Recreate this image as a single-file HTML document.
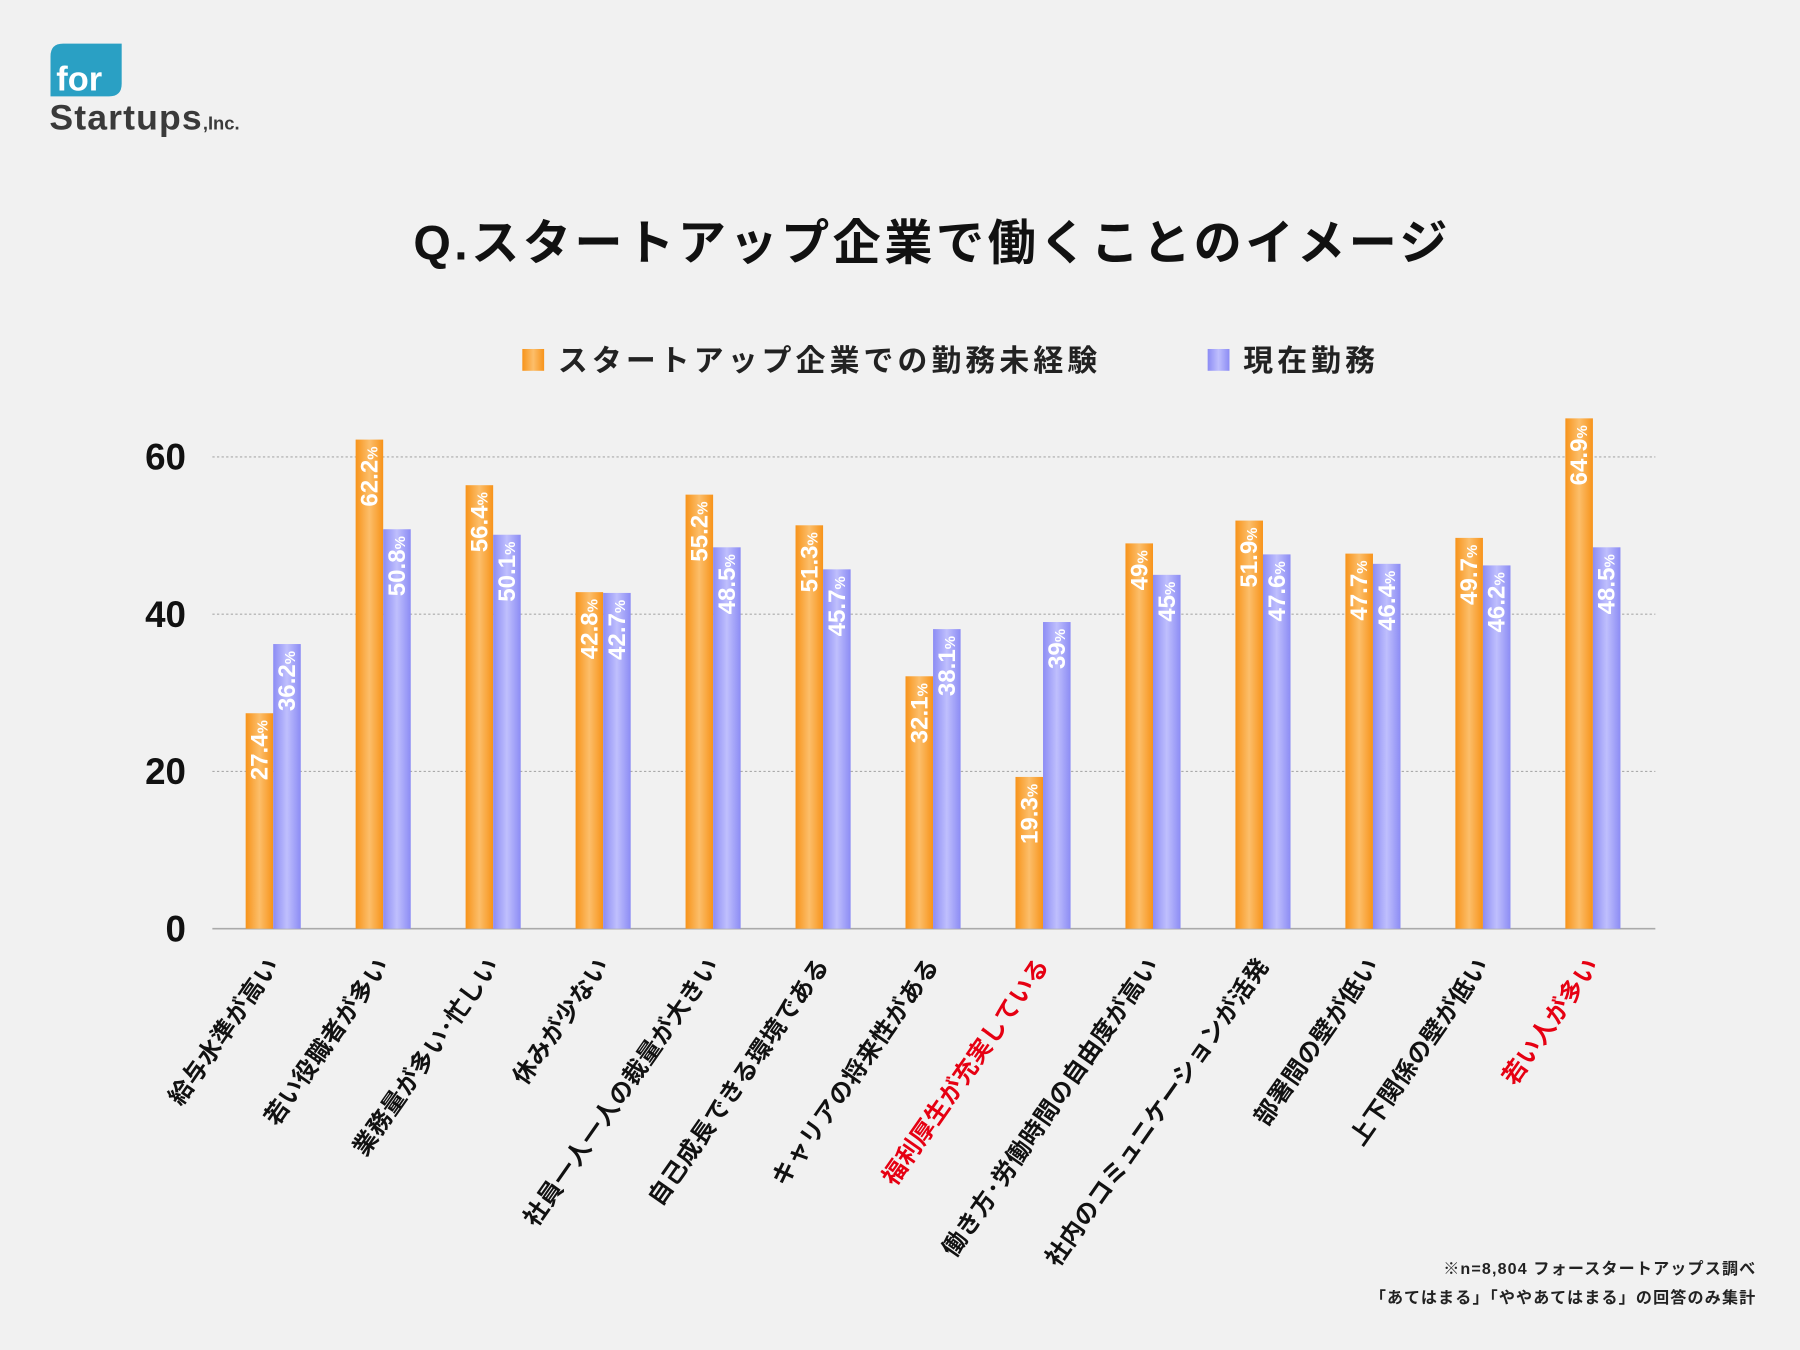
<!DOCTYPE html>
<html><head><meta charset="utf-8"><style>
html,body{margin:0;padding:0;background:#f1f1f1;}
svg{display:block;font-family:"Liberation Sans","Noto Sans CJK JP",sans-serif;}
</style></head><body>
<svg id="chart" width="1800" height="1350" viewBox="0 0 1568 1176" xmlns="http://www.w3.org/2000/svg">
<defs>
<linearGradient id="go" x1="0" x2="1" y1="0" y2="0"><stop offset="0" stop-color="#f7931a"/><stop offset="0.5" stop-color="#fcbe6a"/><stop offset="1" stop-color="#f7931a"/></linearGradient>
<linearGradient id="gb" x1="0" x2="1" y1="0" y2="0"><stop offset="0" stop-color="#8c8cf4"/><stop offset="0.5" stop-color="#bfbffd"/><stop offset="1" stop-color="#8c8cf4"/></linearGradient>
</defs>
<rect width="1568" height="1176" fill="#f1f1f1"/>
<g>
<path d="M44 49 Q44 38 55 38 L106 38 L106 73 Q106 84 95 84 L44 84 Z" fill="#2aa0c4"/>
<text x="49" y="79" font-size="30" font-weight="bold" fill="#fff">for</text>
<text x="43" y="113" font-size="31" font-weight="bold" fill="#3a3a3a" letter-spacing="1">Startups<tspan font-size="16" letter-spacing="0">,Inc.</tspan></text>
</g>
<text x="812" y="226" text-anchor="middle" font-size="42" font-weight="bold" fill="#111" letter-spacing="3">Q.スタートアップ企業で働くことのイメージ</text>
<g>
<rect x="455" y="304" width="19" height="19" fill="url(#go)"/>
<text x="486" y="323" font-size="26" font-weight="bold" fill="#222" letter-spacing="3.6">スタートアップ企業での勤務未経験</text>
<rect x="1052" y="304" width="19" height="19" fill="url(#gb)"/>
<text x="1083" y="323" font-size="26" font-weight="bold" fill="#222" letter-spacing="3.6">現在勤務</text>
</g>
<g id="plot"></g>
<text x="1530" y="1110" text-anchor="end" font-size="14" font-weight="bold" fill="#222" letter-spacing="1">※n=8,804 フォースタートアップス調べ</text>
<text x="1530" y="1135" text-anchor="end" font-size="14" font-weight="bold" fill="#222" letter-spacing="1">「あてはまる」「ややあてはまる」の回答のみ集計</text>
</svg>
<script>
const categories=["給与水準が高い","若い役職者が多い","業務量が多い･忙しい","休みが少ない","社員一人一人の裁量が大きい","自己成長できる環境である","キャリアの将来性がある","福利厚生が充実している","働き方･労働時間の自由度が高い","社内のコミュニケーションが活発","部署間の壁が低い","上下関係の壁が低い","若い人が多い"];
const highlighted=[7,12];
const inexperienced=[27.4,62.2,56.4,42.8,55.2,51.3,32.1,19.3,49,51.9,47.7,49.7,64.9];
const current=[36.2,50.8,50.1,42.7,48.5,45.7,38.1,39,45,47.6,46.4,46.2,48.5];
const yTicks=[0,20,40,60];
const NS="http://www.w3.org/2000/svg";
const plot=document.getElementById('plot');
const y0=809,pxPer=6.85,x0=238,step=95.8,bw=24;
const yS=v=>y0-v*pxPer;
const xS=i=>x0+i*step;
function mk(tag,attrs,parent){const e=document.createElementNS(NS,tag);for(const k in attrs)e.setAttribute(k,attrs[k]);(parent||plot).appendChild(e);return e;}
yTicks.forEach(t=>{
  if(t>0){const l=mk('line',{x1:185,x2:1442,y1:yS(t),y2:yS(t),stroke:'#aaa','stroke-width':1,'stroke-dasharray':'2 2'});
  
  }
  const tx=mk('text',{x:162,y:yS(t)+11,'text-anchor':'end','font-size':32,'font-weight':'bold',fill:'#111'});
  tx.textContent=t;
  
  
});
const ax=mk('line',{x1:185,x2:1442,y1:y0,y2:y0,stroke:'#aaa','stroke-width':1.5});


function valLabel(x,v,name){
  const t=mk('text',{transform:`translate(${x+bw/2+7},${yS(v)+6}) rotate(-90)`,'text-anchor':'end','font-size':21,'font-weight':'bold',fill:'#fff'});
  t.innerHTML=v+'<tspan font-size="13">%</tspan>';
  
  
}
categories.forEach((c,i)=>{
  const cx=xS(i);
  const b1=mk('rect',{x:cx-bw,y:yS(inexperienced[i]),width:bw,height:inexperienced[i]*pxPer,fill:'url(#go)'});
  
  
  const b2=mk('rect',{x:cx,y:yS(current[i]),width:bw,height:current[i]*pxPer,fill:'url(#gb)'});
  
  
  valLabel(cx-bw,inexperienced[i],'value-label-inexperienced-'+i);
  valLabel(cx,current[i],'value-label-current-'+i);
  const lb=mk('text',{transform:`translate(${cx+6},${y0+32}) rotate(-55)`,'text-anchor':'end','font-size':21,'font-weight':'bold',fill:highlighted.includes(i)?'#e60012':'#111','letter-spacing':0.5});
  lb.textContent=c;
  
  
});
</script>
</body></html>
